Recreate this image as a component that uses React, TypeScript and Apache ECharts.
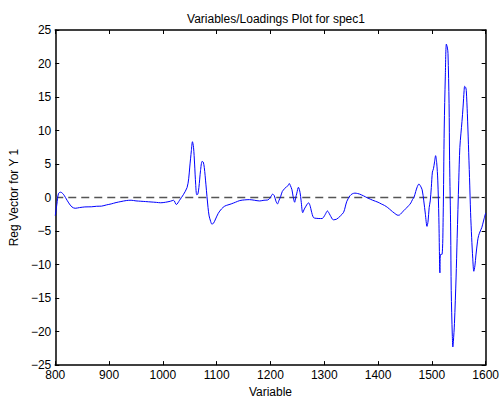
import React, { useEffect, useRef } from "react";
import * as echarts from "echarts";

const xValues = [
  800, 803, 806, 810, 815, 819, 825, 831, 837, 845, 855, 867, 877, 886, 895, 904, 913, 922, 932, 941,
  950, 959, 968, 978, 988, 996, 1005, 1014, 1020, 1025, 1031, 1038, 1045, 1048, 1050, 1053, 1055, 1057,
  1059, 1061, 1063, 1065, 1067, 1070, 1073, 1075, 1077, 1080, 1082, 1084, 1086, 1089, 1091, 1094, 1098,
  1103, 1109, 1115, 1121, 1127, 1135, 1143, 1152, 1161, 1170, 1180, 1188, 1195, 1199, 1201, 1204, 1207,
  1210, 1213, 1216, 1219, 1222, 1226, 1230, 1233, 1235, 1237, 1240, 1242, 1245, 1247, 1249, 1252, 1255,
  1257, 1260, 1263, 1266, 1269, 1271, 1274, 1276, 1280, 1285, 1290, 1296, 1299, 1302, 1306, 1308, 1311,
  1317, 1323, 1330, 1336, 1339, 1342, 1348, 1352, 1357, 1362, 1366, 1373, 1381, 1390, 1400, 1406, 1412,
  1418, 1424, 1430, 1437, 1440, 1443, 1448, 1452, 1457, 1461, 1464, 1467, 1470, 1473, 1476, 1479, 1482,
  1485, 1488, 1491, 1493, 1495, 1497, 1499, 1501, 1503, 1505, 1507, 1509, 1511, 1513, 1515, 1516, 1519,
  1521, 1523, 1525, 1527, 1529, 1530, 1532, 1533, 1535, 1536, 1538, 1539, 1540, 1542, 1545, 1547, 1550,
  1552, 1554, 1556, 1558, 1560, 1561, 1563, 1564, 1566, 1568, 1570, 1572, 1574, 1576, 1578, 1580, 1582,
  1585, 1587, 1590, 1593, 1596, 1600,
];

const regVector = [
  -2.7, -1.0, 0.6, 0.8, 0.5, 0.0, -0.8, -1.4, -1.6, -1.5, -1.4, -1.38, -1.3, -1.28, -1.1, -0.95, -0.75,
  -0.6, -0.45, -0.4, -0.5, -0.55, -0.6, -0.66, -0.72, -0.78, -0.7, -0.55, -0.41, -1.04, -0.41, 0.42, 1.49,
  2.8, 4.55, 7.0, 8.33, 7.5, 5.0, 2.0, 0.42, 0.5, 1.5, 4.0, 5.4, 5.3, 4.5, 2.0, 0.17, -1.5, -2.74, -3.6,
  -3.95, -3.85, -3.2, -2.35, -1.7, -1.28, -1.1, -0.95, -0.7, -0.45, -0.35, -0.31, -0.4, -0.51, -0.4, -0.36,
  -0.1, 0.17, 0.5, 0.3, -0.5, -0.95, -0.4, 0.17, 0.9, 1.3, 1.63, 1.8, 2.1, 1.8, 1.15, 0.2, -0.7, 0.0, 0.66,
  1.53, 0.76, -0.5, -2.26, -1.7, -1.28, -0.9, -0.8, -1.3, -2.01, -2.99, -3.1, -3.13, -3.13, -2.9, -2.5,
  -2.0, -2.2, -2.64, -3.32, -3.22, -2.74, -2.2, -1.4, -0.55, 0.28, 0.55, 0.66, 0.6, 0.51, 0.25, -0.07,
  -0.4, -0.7, -0.95, -1.18, -1.5, -1.91, -2.3, -2.64, -2.6, -2.35, -1.95, -1.62, -1.2, -0.8, -0.3, 0.07,
  0.9, 1.63, 2.02, 1.7, 1.15, -0.5, -2.5, -4.3, -3.5, -1.5, -0.5, 1.5, 3.8, 4.3, 5.3, 6.25, 5.2, 2.6,
  -3.0, -11.24, -8.5, -8.47, -3.0, 10.37, 18.0, 22.9, 22.3, 21.5, 14.0, 5.5, -5.0, -13.9, -20.5, -22.3,
  -21.5, -18.8, -12.0, -6.1, 2.5, 7.46, 9.5, 11.35, 13.5, 16.0, 16.6, 16.4, 15.96, 12.5, 7.95, 3.0, -2.26,
  -6.0, -9.05, -11.0, -10.2, -8.57, -6.5, -5.65, -5.0, -4.44, -3.5, -2.3,
];

const xTicks = [800, 900, 1000, 1100, 1200, 1300, 1400, 1500, 1600];
const yTicks = [-25, -20, -15, -10, -5, 0, 5, 10, 15, 20, 25];

const FONT = "Liberation Sans, Arial, Helvetica, sans-serif";

const fmt = (v: number) => String(v).replace("-", "\u2212");

export default function App() {
  const ref = useRef<HTMLDivElement>(null);
  useEffect(() => {
    if (!ref.current) return;
    const chart = echarts.init(ref.current, undefined, { renderer: "svg" });
    const data = xValues.map((x, i) => [x, regVector[i]]);
    const xMin = xTicks[0];
    const xMax = xTicks[xTicks.length - 1];
    const yMin = yTicks[0];
    const yMax = yTicks[yTicks.length - 1];
    const common = {
      axisLine: { show: true, onZero: false, lineStyle: { color: "#000", width: 1.5 } },
      axisTick: { show: true, inside: true, length: 4, lineStyle: { color: "#000", width: 1 } },
      splitLine: { show: false },
    };
    chart.setOption({
      animation: false,
      backgroundColor: "#fff",
      title: {
        text: "Variables/Loadings Plot for spec1",
        left: 271,
        textAlign: "center",
        top: 8,
        textStyle: { fontFamily: FONT, fontSize: 12, fontWeight: "normal", color: "#000" },
      },
      grid: { left: 53, right: 13, top: 30, bottom: 30, containLabel: false },
      xAxis: [
        {
          type: "value",
          min: xMin,
          max: xMax,
          interval: 100,
          position: "bottom",
          name: "Variable",
          nameLocation: "middle",
          nameGap: 19,
          nameTextStyle: { fontFamily: FONT, fontSize: 12, color: "#000" },
          axisLabel: { fontFamily: FONT, fontSize: 12, color: "#000", margin: 4, formatter: fmt },
          ...common,
        },
        {
          type: "value",
          min: xMin,
          max: xMax,
          interval: 100,
          position: "top",
          axisLabel: { show: false },
          ...common,
        },
      ],
      yAxis: [
        {
          type: "value",
          min: yMin,
          max: yMax,
          interval: 5,
          position: "left",
          name: "Reg Vector for Y 1",
          nameLocation: "middle",
          nameGap: 30,
          nameTextStyle: { fontFamily: FONT, fontSize: 12, color: "#000" },
          axisLabel: { fontFamily: FONT, fontSize: 12, color: "#000", margin: 4, formatter: fmt },
          ...common,
        },
        {
          type: "value",
          min: yMin,
          max: yMax,
          interval: 5,
          position: "right",
          axisLabel: { show: false },
          ...common,
        },
      ],
      series: [
        {
          type: "line",
          data: [
            [xMin, 0],
            [xMax, 0],
          ],
          symbol: "none",
          silent: true,
          lineStyle: { color: "#555", width: 1.5, type: [8, 5] },
        },
        {
          type: "line",
          data,
          symbol: "none",
          smooth: 0.3,
          lineStyle: { color: "#0000ff", width: 1 },
        },
      ],
    });
    return () => chart.dispose();
  }, []);
  return (
    <div
      ref={ref}
      style={{ position: "absolute", left: 0, top: 0, width: 502, height: 403 }}
    />
  );
}
